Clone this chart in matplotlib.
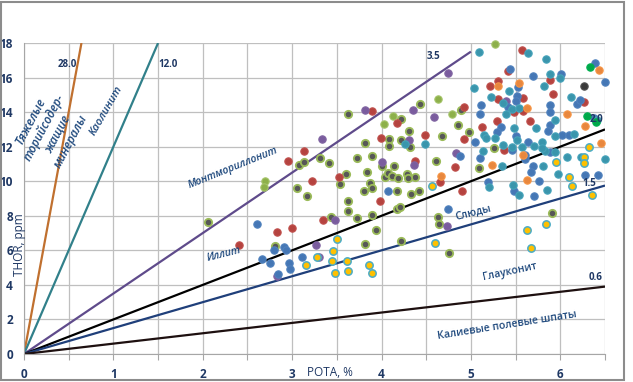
import matplotlib.pyplot as plt
from matplotlib.patches import Rectangle
import numpy as np

# reference lines: Th/K ratio and where each one stops
ratios = [28.0, 12.0, 3.5, 2.0, 1.5, 0.6]
ratio_labels = ['28.0', '12.0', '3.5', '2.0', '1.5', '0.6']
ratio_kmax = [18 / 28.0, 18 / 12.0, 5.0, 6.5, 6.5, 6.5]
ratio_colors = ['#C0702F', '#31808A', '#5F4B8B', '#000000', '#1F3F7A', '#1E1010']

# samples (POTA %, THOR ppm) grouped by marker colour
olive_pts = [(2.06, 7.62), (2.81, 6.25), (3.05, 9.62), (3.17, 9.16), (3.08, 10.92), (3.13, 11.13),
             (3.31, 11.32), (3.41, 11.05), (3.43, 7.93), (3.53, 9.82), (3.62, 8.87), (3.63, 8.29),
             (3.73, 7.89), (3.80, 9.43), (3.87, 9.91), (3.89, 9.59), (3.89, 8.04), (3.94, 7.19),
             (3.82, 6.37), (4.22, 6.56), (4.17, 9.45), (4.33, 9.26), (4.17, 8.37), (4.21, 8.52),
             (4.42, 9.43), (4.43, 14.49), (3.62, 13.87), (4.89, 14.12), (4.22, 13.60), (4.31, 12.89),
             (4.86, 13.23), (4.98, 12.85), (4.08, 12.46), (4.22, 12.40), (4.08, 12.05), (4.32, 11.98),
             (4.68, 12.62), (3.81, 12.19), (3.89, 11.46), (3.72, 11.32), (3.60, 10.43), (3.84, 10.55),
             (4.00, 10.90), (4.14, 10.90), (4.04, 10.23), (4.07, 10.46), (4.12, 10.28), (4.18, 10.19),
             (4.29, 10.43), (4.37, 10.26), (4.30, 10.20), (4.61, 11.19), (4.63, 7.93), (4.64, 7.51),
             (4.75, 5.86), (5.91, 8.18), (5.09, 10.78), (5.26, 11.90)]
green_pts = [(2.70, 9.99), (2.68, 9.65), (4.63, 14.76), (4.79, 13.89), (4.13, 13.75), (4.03, 13.33),
             (5.27, 17.92)]
red_pts = [(3.13, 11.73), (2.95, 11.19), (3.22, 9.99), (2.83, 7.04), (3.00, 7.27), (2.41, 6.31),
           (3.35, 7.75), (3.98, 8.87), (3.89, 14.04), (4.92, 14.31), (4.17, 13.37), (3.99, 12.52),
           (4.49, 12.67), (4.92, 12.44), (3.52, 10.22), (4.37, 11.17), (4.82, 10.80), (4.65, 9.95),
           (4.90, 9.45), (5.57, 17.59), (5.42, 16.36), (5.88, 15.87), (5.30, 15.82), (5.21, 15.49),
           (5.58, 14.79), (5.30, 14.76), (5.92, 15.05), (5.48, 14.00), (5.58, 14.06), (6.26, 14.60),
           (5.29, 13.48), (5.12, 13.15), (5.66, 13.48), (5.37, 11.82)]
purple_pts = [(3.33, 12.42), (3.27, 6.29), (2.83, 4.50), (3.48, 7.77), (4.74, 16.28), (3.81, 14.14),
              (4.35, 14.14), (4.59, 13.73), (4.31, 12.40), (4.83, 11.61), (4.01, 11.11), (4.36, 10.94),
              (4.73, 7.41), (5.39, 14.62), (3.30, 5.63)]
blue_pts = [(2.61, 7.50), (2.91, 6.19), (2.93, 6.00), (2.80, 6.00), (2.66, 5.52), (2.75, 5.27),
            (2.96, 5.27), (2.98, 4.90), (3.11, 5.60), (2.84, 4.61), (4.07, 9.45), (4.88, 11.44),
            (4.74, 8.39), (5.19, 9.93), (5.48, 9.45), (5.71, 9.14), (5.76, 10.01), (5.10, 11.34),
            (5.46, 11.79), (5.60, 11.52), (5.61, 11.28), (5.69, 10.88), (5.67, 10.51), (6.28, 10.34),
            (6.42, 10.38), (6.39, 16.84), (5.44, 16.48), (5.70, 16.07), (6.01, 16.19), (6.50, 15.76),
            (5.53, 15.45), (5.52, 14.95), (5.50, 14.62), (5.11, 14.39), (5.10, 13.87), (5.89, 14.41),
            (5.89, 14.00), (6.19, 14.47), (6.22, 14.68), (5.34, 13.15), (5.88, 13.25), (5.86, 12.89),
            (6.02, 12.67), (6.10, 12.67), (5.29, 12.86), (5.05, 12.29), (5.50, 12.63), (5.64, 12.29),
            (6.38, 13.64), (5.88, 11.69), (5.41, 14.30)]
teal_pts = [(4.26, 12.13), (4.49, 12.13), (5.09, 17.49), (5.64, 17.44), (5.84, 17.07), (5.89, 16.22),
            (6.00, 15.97), (5.04, 15.41), (5.43, 15.22), (5.82, 15.51), (5.22, 14.89), (6.12, 14.86),
            (5.36, 14.54), (5.46, 14.19), (5.54, 14.24), (5.39, 13.87), (5.94, 13.54), (6.41, 13.52),
            (5.48, 13.10), (5.73, 13.10), (5.94, 12.62), (6.15, 12.73), (5.15, 12.67), (5.17, 12.48),
            (5.27, 12.48), (5.51, 12.38), (5.57, 12.00), (5.71, 12.02), (5.79, 12.29), (5.36, 12.09),
            (5.13, 11.75), (5.35, 10.86), (5.81, 10.90), (5.83, 11.75), (5.80, 11.90), (5.94, 11.67),
            (5.97, 10.43), (6.08, 11.40), (6.23, 11.40), (6.50, 11.28), (5.20, 9.65), (5.47, 9.80),
            (5.54, 9.18), (5.85, 9.47), (5.46, 11.96)]
orange_pts = [(4.67, 10.32), (5.63, 10.07), (5.58, 11.53), (5.24, 10.92), (6.43, 16.45), (5.30, 15.51),
              (5.54, 15.68), (5.63, 14.22), (6.08, 13.91), (6.28, 13.19), (6.45, 12.23)]
yellow_pts = [(3.15, 5.13), (3.28, 5.60), (3.45, 5.38), (3.48, 4.67), (3.50, 6.64), (3.46, 5.98),
              (3.61, 5.38), (3.62, 4.79), (3.86, 5.13), (3.89, 4.67), (4.57, 9.72), (4.60, 6.40),
              (5.63, 7.19), (5.67, 6.12), (5.84, 7.54), (6.13, 9.74), (6.35, 9.18), (5.95, 11.13),
              (6.27, 11.38), (6.27, 11.07), (6.32, 11.96), (6.10, 10.24)]
dkgreen_pts = [(6.33, 16.61), (6.30, 13.77), (6.40, 13.45)]
dkgray_pts = [(6.27, 15.51)]

TXT = '#1F497D'
NAVY = '#1F3864'
FONT = 'Open Sans'

fig = plt.figure(figsize=(6.33, 3.82), dpi=100)
ax = fig.add_axes([24 / 633, 1 - 354 / 382, 581 / 633, 311 / 382])

for r, kmax, c in zip(ratios, ratio_kmax, ratio_colors):
    ax.plot([0, kmax], [0, r * kmax], color=c, lw=1.6, zorder=2, solid_capstyle='butt')


def draw_group(pts, face, edge, lw=0.8):
    k = [p[0] for p in pts]
    th = [p[1] for p in pts]
    ax.scatter(k, th, s=28, c=face, edgecolors=edge, linewidths=lw, zorder=3, clip_on=False)


draw_group(olive_pts, '#575757', '#9BBB59', 1.3)
draw_group(green_pts, '#8DB04A', '#A5C46A')
draw_group(red_pts, '#B5433F', '#C0504D')
draw_group(purple_pts, '#7A5C9E', '#8064A2')
draw_group(blue_pts, '#4577B5', '#4F81BD')
draw_group(teal_pts, '#3A95AC', '#45A3BA')
draw_group(orange_pts, '#E8873E', '#F79646')
draw_group(yellow_pts, '#FFC000', '#4BACC6', 1.1)
draw_group(dkgreen_pts, '#00A84A', '#00B050')
draw_group(dkgray_pts, '#3A3A3A', '#505050')

ax.set_xlim(0, 6.5)
ax.set_ylim(0, 18)
ax.set_xticks(np.arange(0, 6.51, 0.5))
ax.set_xticklabels(['0', '', '1', '', '2', '', '3', '', '4', '', '5', '', '6', ''])
ax.set_yticks(np.arange(0, 18.1, 2))
ax.grid(True, color='#BFBFBF', lw=0.9, zorder=0)
ax.set_axisbelow(True)
for s in ['top', 'right']:
    ax.spines[s].set_visible(False)
for s in ['left', 'bottom']:
    ax.spines[s].set_color('#A6A6A6')
ax.tick_params(axis='x', length=4, color='#A6A6A6', pad=6, labelsize=8.5, labelcolor=NAVY)
ax.tick_params(axis='y', length=0, pad=8, labelsize=8.5, labelcolor=NAVY)
for lab in ax.get_xticklabels() + ax.get_yticklabels():
    lab.set_fontfamily(FONT)
    lab.set_fontweight('bold')

fig.text(20 / 633, 1 - 245 / 382, 'THOR, ppm', rotation=90, ha='center', va='center',
         fontsize=8.5, color=NAVY, family=FONT)
fig.text(330 / 633, 1 - 372 / 382, 'POTA, %', ha='center', va='center',
         fontsize=8.5, color=NAVY, family=FONT)

# ratio values near line ends
ratio_label_pos = [(0.48, 16.78), (1.61, 16.78), (4.58, 17.19), (6.41, 13.58), (6.32, 9.86), (6.39, 4.42)]
for t, (x, y) in zip(ratio_labels, ratio_label_pos):
    ax.text(x, y, t, fontsize=7, color=NAVY, fontweight='bold', family=FONT,
            ha='center', va='center', zorder=4)

# mineral names
minerals = ['Тяжелые\nторийсодер-\nжащие\nминералы', 'Каолинит', 'Монтмориллонит', 'Иллит',
            'Слюды', 'Глауконит', 'Калиевые полевые шпаты']
mineral_pos = [(0.30, 12.9), (0.92, 14.1), (2.34, 10.76), (2.24, 5.76), (5.03, 8.19), (5.44, 4.75),
               (5.41, 1.62)]
mineral_rot = [62, 60, 22, 14, 14, 12, 9]
mineral_size = [8.5, 8, 7.5, 7.5, 7.5, 7.5, 7.5]
mineral_style = ['italic', 'italic', 'italic', 'italic', 'normal', 'normal', 'normal']
for t, (x, y), r, fs, st in zip(minerals, mineral_pos, mineral_rot, mineral_size, mineral_style):
    ax.text(x, y, t, rotation=r, rotation_mode='anchor', fontsize=fs, color=TXT,
            fontweight='semibold', fontstyle=st, family=FONT, ha='center', va='center',
            linespacing=1.2, zorder=4)

fig.patches.append(Rectangle((0.002, 0.006), 623 / 633, 0.99, transform=fig.transFigure,
                             fill=False, edgecolor='#8C8C8C', lw=1.5))

fig.savefig('out.png', dpi=100)
